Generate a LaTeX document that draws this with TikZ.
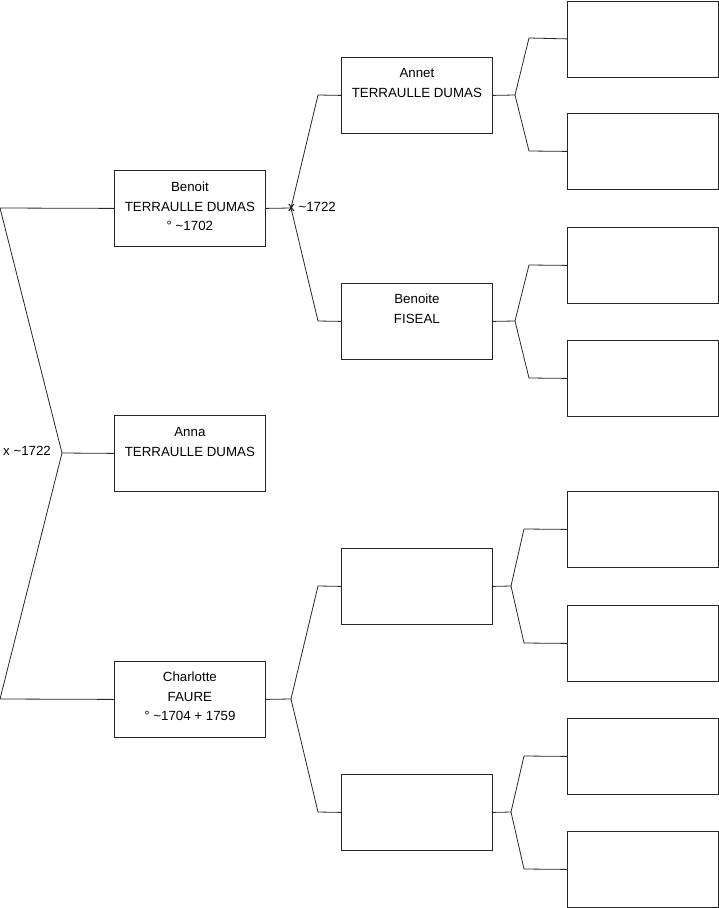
\documentclass[tikz,border=0pt]{standalone}
\usepackage{fontspec}
\setmainfont{Liberation Sans}
\usetikzlibrary{calc}
\begin{document}
\begin{tikzpicture}[x=1pt,y=-1pt,
  box/.style={draw=black!85,line width=0.8pt,minimum width=151pt,minimum height=76pt,inner sep=0pt,anchor=north west},
  txt/.style={font=\fontsize{13.3pt}{19.8pt}\selectfont,align=center,inner sep=0pt,anchor=north},
  lbl/.style={font=\fontsize{13.3pt}{15pt}\selectfont,inner sep=0pt,anchor=west},
  ln/.style={draw=black!85,line width=0.8pt}]
\useasboundingbox (0,0) rectangle (719,908);
% generation 1
\node[box] (benoit) at (114,170) {};
\node[box] (anna) at (114,415) {};
\node[box] (charlotte) at (114,661) {};
% generation 2
\node[box] (annet) at (341,57) {};
\node[box] (benoite) at (341,283) {};
\node[box] (g2c) at (341,548) {};
\node[box] (g2d) at (341,774) {};
% generation 3
\node[box] (g3a) at (567,0.5) {};
\node[box] (g3b) at (567,113) {};
\node[box] (g3c) at (567,227) {};
\node[box] (g3d) at (567,340) {};
\node[box] (g3e) at (567,491) {};
\node[box] (g3f) at (567,605) {};
\node[box] (g3g) at (567,718) {};
\node[box] (g3h) at (567,831) {};
% texts
\node[txt] (benoitT) at ($(benoit.north)+(0,11.5)$) {Benoit\\TERRAULLE DUMAS\\° \textasciitilde 1702};
\node[txt] (annaT) at ($(anna.north)+(0,12.5)$) {Anna\\TERRAULLE DUMAS};
\node[txt] (charlotteT) at ($(charlotte.north)+(0,10.5)$) {Charlotte\\FAURE\\° \textasciitilde 1704 + 1759};
\node[txt] (annetT) at ($(annet.north)+(0,11)$) {Annet\\TERRAULLE DUMAS};
\node[txt] (benoiteT) at ($(benoite.north)+(0,11)$) {Benoite\\FISEAL};
% fork coordinates
\coordinate (c0) at (0,208);
\coordinate (c1) at (0,699);
\coordinate (f0) at (62,453);
\coordinate (f1) at (291,208);
\coordinate (f1a) at (318,95);
\coordinate (f1b) at (318,321);
\coordinate (f2) at (291,699);
\coordinate (f2a) at (318,586);
\coordinate (f2b) at (318,812);
\coordinate (f3) at (515,95);
\coordinate (f3a) at (529,38);
\coordinate (f3b) at (529,151);
\coordinate (f4) at (515,321);
\coordinate (f4a) at (529,265);
\coordinate (f4b) at (529,378);
\coordinate (f5) at (511,586);
\coordinate (f5a) at (524,529);
\coordinate (f5b) at (524,643);
\coordinate (f6) at (511,812);
\coordinate (f6a) at (524,756);
\coordinate (f6b) at (524,869);
% connectors
\draw[ln] (benoit.west) -- (c0) -- (f0) -- (c1) -- (charlotte.west);
\draw[ln] (f0) -- (anna.west);
\draw[ln] (benoit.east) -- (f1);
\draw[ln] (annet.west) -- (f1a) -- (f1) -- (f1b) -- (benoite.west);
\draw[ln] (charlotte.east) -- (f2);
\draw[ln] (g2c.west) -- (f2a) -- (f2) -- (f2b) -- (g2d.west);
\draw[ln] (annet.east) -- (f3);
\draw[ln] (g3a.west) -- (f3a) -- (f3) -- (f3b) -- (g3b.west);
\draw[ln] (benoite.east) -- (f4);
\draw[ln] (g3c.west) -- (f4a) -- (f4) -- (f4b) -- (g3d.west);
\draw[ln] (g2c.east) -- (f5);
\draw[ln] (g3e.west) -- (f5a) -- (f5) -- (f5b) -- (g3f.west);
\draw[ln] (g2d.east) -- (f6);
\draw[ln] (g3g.west) -- (f6a) -- (f6) -- (f6b) -- (g3h.west);
% labels
\node[lbl] (m0) at (3,451) {x \textasciitilde 1722};
\node[lbl] (m1) at (288,207) {x \textasciitilde 1722};
\end{tikzpicture}
\end{document}
